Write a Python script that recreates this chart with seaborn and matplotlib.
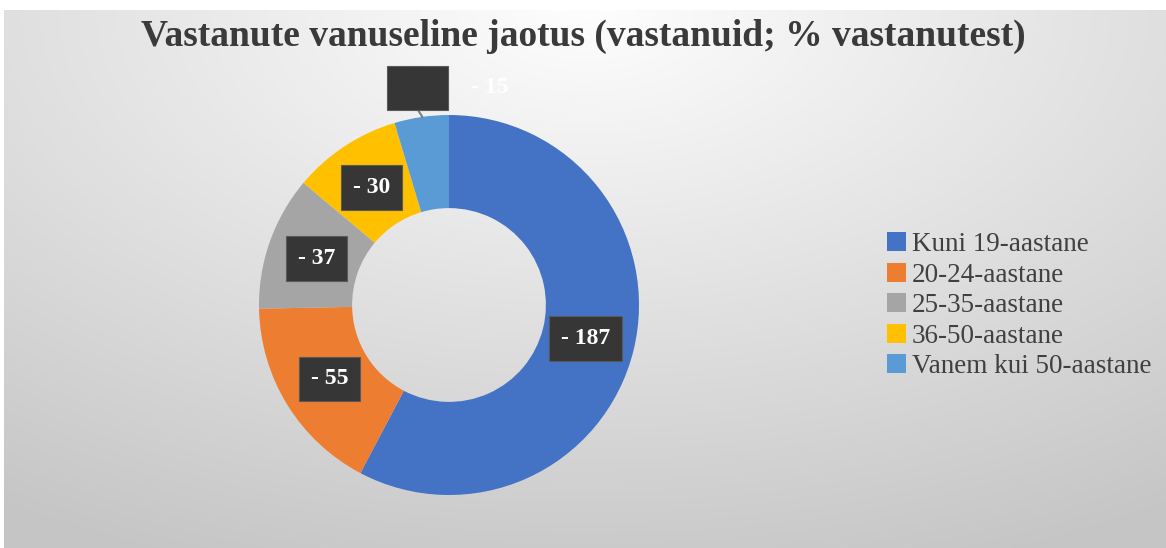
import numpy as np
import matplotlib
matplotlib.use("Agg")
import matplotlib.pyplot as plt
from matplotlib.font_manager import FontProperties
import seaborn as sns

categories = ["Kuni 19-aastane", "20-24-aastane", "25-35-aastane", "36-50-aastane", "Vanem kui 50-aastane"]
values = [187, 55, 37, 30, 15]
labels = ["- 187", "- 55", "- 37", "- 30", "- 15"]
colors = ["#4472C4", "#ED7D31", "#A5A5A5", "#FFC000", "#5B9BD5"]
title = "Vastanute vanuseline jaotus (vastanuid; % vastanutest)"

sns.set_style("white")
plt.rcParams['font.family'] = ['Liberation Serif', 'DejaVu Serif']

W, H = 1166, 548
fig = plt.figure(figsize=(W / 100, H / 100), dpi=100)
fig.patch.set_facecolor("white")

# gradient background
bg = fig.add_axes([4 / W, 0, 1 - 4 / W, 538 / H])
yy, xx = np.mgrid[0:1:300j, 0:1:600j]
d = np.sqrt(((xx - 0.5) * 1.2) ** 2 + ((yy - 0.0) * 1.0) ** 2)
g = 0.995 - 0.22 * np.clip(d, 0, 1.1) / 1.1
bg.imshow(np.dstack([g, g, g]), extent=[0, 1, 0, 1], aspect="auto", origin="upper")
bg.set_axis_off()

fig.text(0.5, 1 - 36 / H, title, ha="center", va="center", fontsize=27,
         fontweight="bold", color="#3a3a3a", family="Liberation Serif")

# donut
cx, cy, R = 449, H - 305, 190
half = 1.05 * R
ax = fig.add_axes([(cx - half) / W, (cy - half) / H, 2 * half / W, 2 * half / H])
wedges, _ = ax.pie(values, colors=colors, startangle=90, counterclock=False,
                   radius=1.0, wedgeprops=dict(width=0.49, edgecolor="none"))
ax.set_xlim(-1.05, 1.05)
ax.set_ylim(-1.05, 1.05)
ax.set_aspect("equal")
ax.set_axis_off()

bbox = dict(boxstyle="square,pad=0.5", facecolor="#363636", edgecolor="#5a5a5a", linewidth=0.8)
for i, (w, lab) in enumerate(zip(wedges, labels)):
    ang = np.deg2rad((w.theta1 + w.theta2) / 2)
    if i < len(values) - 1:
        r = 0.74
        ax.text(r * np.cos(ang), r * np.sin(ang), lab, ha="center", va="center",
                fontsize=17, fontweight="bold", color="white", bbox=bbox,
                family="Liberation Serif")
    else:
        r = 1.155
        x, y = r * np.cos(ang), r * np.sin(ang)
        ax.text(x, y, "- 00", ha="center", va="center", fontsize=17,
                fontweight="bold", color="#363636", bbox=bbox, clip_on=False,
                family="Liberation Serif")
        ax.plot([x, 1.0 * np.cos(ang) + 0.005], [y - 0.11, 1.0 * np.sin(ang)],
                color="#7f7f7f", lw=1.5, clip_on=False)
        ax.text(x + 0.38, y, lab, ha="center", va="center", fontsize=17,
                fontweight="bold", color="white", clip_on=False,
                family="Liberation Serif")

handles = [plt.Rectangle((0, 0), 1, 1, facecolor=c, edgecolor="none") for c in colors]
fig.legend(handles, categories, loc="upper left", bbox_to_anchor=(882 / W, 1 - 227 / H),
           frameon=False, prop=FontProperties(family="Liberation Serif", size=19.5),
           handlelength=0.7, handleheight=0.7,
           handletextpad=0.2, labelspacing=0.2, labelcolor="#404040",
           borderpad=0.2, borderaxespad=0)

fig.savefig("out.png", dpi=100)
